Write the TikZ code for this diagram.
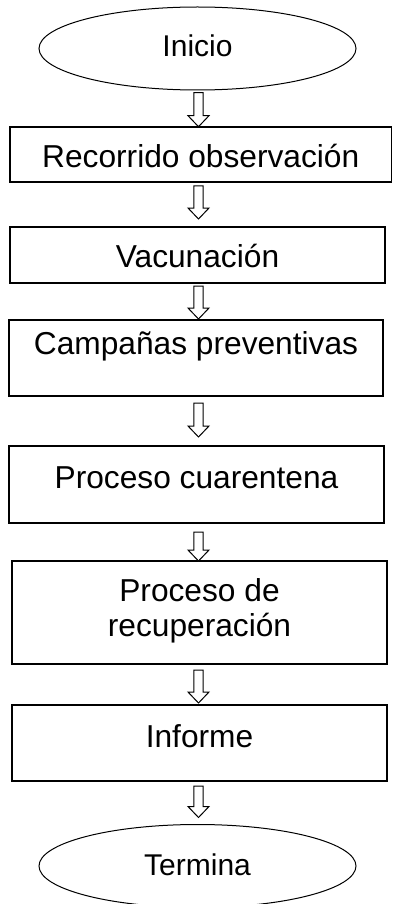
\documentclass[tikz,border=0pt]{standalone}
\usepackage{fontspec}
\setmainfont{Liberation Sans}
\usetikzlibrary{shapes.geometric,calc}
\newcommand\arrx{198.5pt}
\newcommand\arrsw{4.7pt}
\newcommand\arrhw{10.5pt}
\newcommand\arrhl{11pt}
\newcommand\flowarr[4]{%
  \draw[blockarr] let \p1=($(#1.south)+(0,-#2)$), \p2=($(#3.north)+(0,#4)$) in
    (\arrx-\arrsw,\y1) -- (\arrx+\arrsw,\y1) -- (\arrx+\arrsw,\y2+\arrhl)
    -- (\arrx+\arrhw,\y2+\arrhl) -- (\arrx,\y2) -- (\arrx-\arrhw,\y2+\arrhl)
    -- (\arrx-\arrsw,\y2+\arrhl) -- cycle;}
\begin{document}
\begin{tikzpicture}[
  every node/.style={font=\fontsize{31.7}{35}\selectfont, inner sep=0pt, outer sep=0pt},
  terminal/.style={draw, line width=1pt, ellipse, minimum width=317pt, minimum height=83pt, font=\fontsize{30}{35}\selectfont},
  stepbox/.style={draw, line width=1.7pt, rectangle},
  blockarr/.style={draw, line width=1pt, fill=white, line join=miter}
]
\useasboundingbox (0,0) rectangle (393pt,-904pt);
\node[terminal, text height=22pt, text depth=5pt] (ini) at (197.5pt,-48.5pt) {Inicio};
\node[stepbox, minimum width=381.5pt, minimum height=55pt, text height=40.3pt, text depth=14.7pt] (b1) at (200.75pt,-154.5pt) {Recorrido observación};
\node[stepbox, minimum width=375pt, minimum height=56pt, text height=40pt, text depth=16pt] (b2) at (197.5pt,-255pt) {Vacunación};
\node[stepbox, minimum width=374pt, minimum height=76pt, text height=34.3pt, text depth=41.7pt] (b3) at (196pt,-358pt) {Campañas preventivas};
\node[stepbox, minimum width=375pt, minimum height=77pt, text height=42.3pt, text depth=34.7pt] (b4) at (196.5pt,-484.5pt) {Proceso cuarentena};
\node[stepbox, minimum width=375pt, minimum height=103pt, text height=40.7pt, text depth=62.3pt] (b5) at (199.5pt,-612.5pt) {\parbox[t]{340pt}{\centering\fontsize{31.7}{35}\selectfont Proceso de\\recuperación}};
\node[stepbox, minimum width=375pt, minimum height=76pt, text height=42pt, text depth=34pt] (b6) at (199.5pt,-743pt) {Informe};
\node[terminal, text height=22pt, text depth=3pt] (fin) at (197.5pt,-866pt) {Termina};
\flowarr{ini}{2.7pt}{b1}{0.3pt}
\flowarr{b1}{4pt}{b2}{8pt}
\flowarr{b2}{3pt}{b3}{1pt}
\flowarr{b3}{7pt}{b4}{9pt}
\flowarr{b4}{9pt}{b5}{0pt}
\flowarr{b5}{6pt}{b6}{2pt}
\flowarr{b6}{5pt}{fin}{7pt}
\end{tikzpicture}
\end{document}
